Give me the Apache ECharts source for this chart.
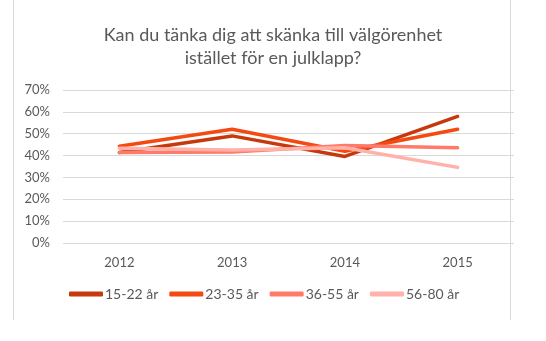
<!DOCTYPE html>
<html>
<head>
<meta charset="utf-8">
<script src="https://cdn.jsdelivr.net/npm/echarts@6/dist/echarts.min.js"></script>
<style>
  html, body { margin: 0; padding: 0; background: #fff; }
  #chart { width: 546px; height: 341px; }
</style>
</head>
<body>
<div id="chart"></div>
<script>
// Andel som kan tänka sig att skänka till välgörenhet, per åldersgrupp
const years = ['2012', '2013', '2014', '2015'];
const age15to22 = [41.4, 49.0, 39.6, 57.9];
const age23to35 = [44.3, 52.0, 42.0, 52.0];
const age36to55 = [41.4, 41.6, 44.6, 43.6];
const age56to80 = [43.3, 42.6, 43.6, 34.6];
const seriesNames = ['15-22 år', '23-35 år', '36-55 år', '56-80 år'];
const seriesColors = ['#C6390C', '#F44A12', '#FF7A68', '#FFB1AA'];
const yTicks = [0, 10, 20, 30, 40, 50, 60, 70];

const dataSets = [age15to22, age23to35, age36to55, age56to80];
const fontFamily = 'Lato, "Open Sans", sans-serif';

const chart = echarts.init(document.getElementById('chart'));
chart.setOption({
  animation: false,
  title: {
    text: 'Kan du tänka dig att skänka till välgörenhet\nistället för en julklapp?',
    left: 'center',
    top: 19,
    textStyle: { color: '#595959', fontSize: 18, fontWeight: 'normal', fontFamily: fontFamily, lineHeight: 23 }
  },
  legend: {
    bottom: 35,
    left: 64,
    itemWidth: 34,
    itemHeight: 5,
    itemGap: 11,
    icon: 'roundRect',
    textStyle: { color: '#595959', fontSize: 14, fontFamily: fontFamily, padding: [0, 0, 0, -3] },
    data: seriesNames
  },
  grid: { left: 63, right: 32, top: 90, bottom: 98 },
  xAxis: {
    type: 'category',
    data: years,
    boundaryGap: true,
    axisLine: { show: false },
    axisTick: { show: false },
    axisLabel: { color: '#595959', fontSize: 13, fontFamily: fontFamily, margin: 13 }
  },
  yAxis: {
    type: 'value',
    min: yTicks[0],
    max: yTicks[yTicks.length - 1],
    interval: 10,
    axisLine: { show: false },
    axisTick: { show: false },
    splitLine: { lineStyle: { color: '#D9D9D9', width: 1 } },
    axisLabel: { color: '#595959', fontSize: 13, fontFamily: fontFamily, margin: 13, formatter: '{value}%' }
  },
  graphic: [
    { type: 'line', shape: { x1: 13.5, y1: 0, x2: 13.5, y2: 320 }, style: { stroke: '#D9D9D9', lineWidth: 1 } },
    { type: 'line', shape: { x1: 510.5, y1: 0, x2: 510.5, y2: 320 }, style: { stroke: '#D9D9D9', lineWidth: 1 } }
  ],
  series: dataSets.map((values, i) => ({
    name: seriesNames[i],
    type: 'line',
    data: values,
    symbol: 'none',
    color: seriesColors[i],
    lineStyle: { width: 3.5, cap: 'round', join: 'round', color: seriesColors[i] }
  }))
});
</script>
</body>
</html>
